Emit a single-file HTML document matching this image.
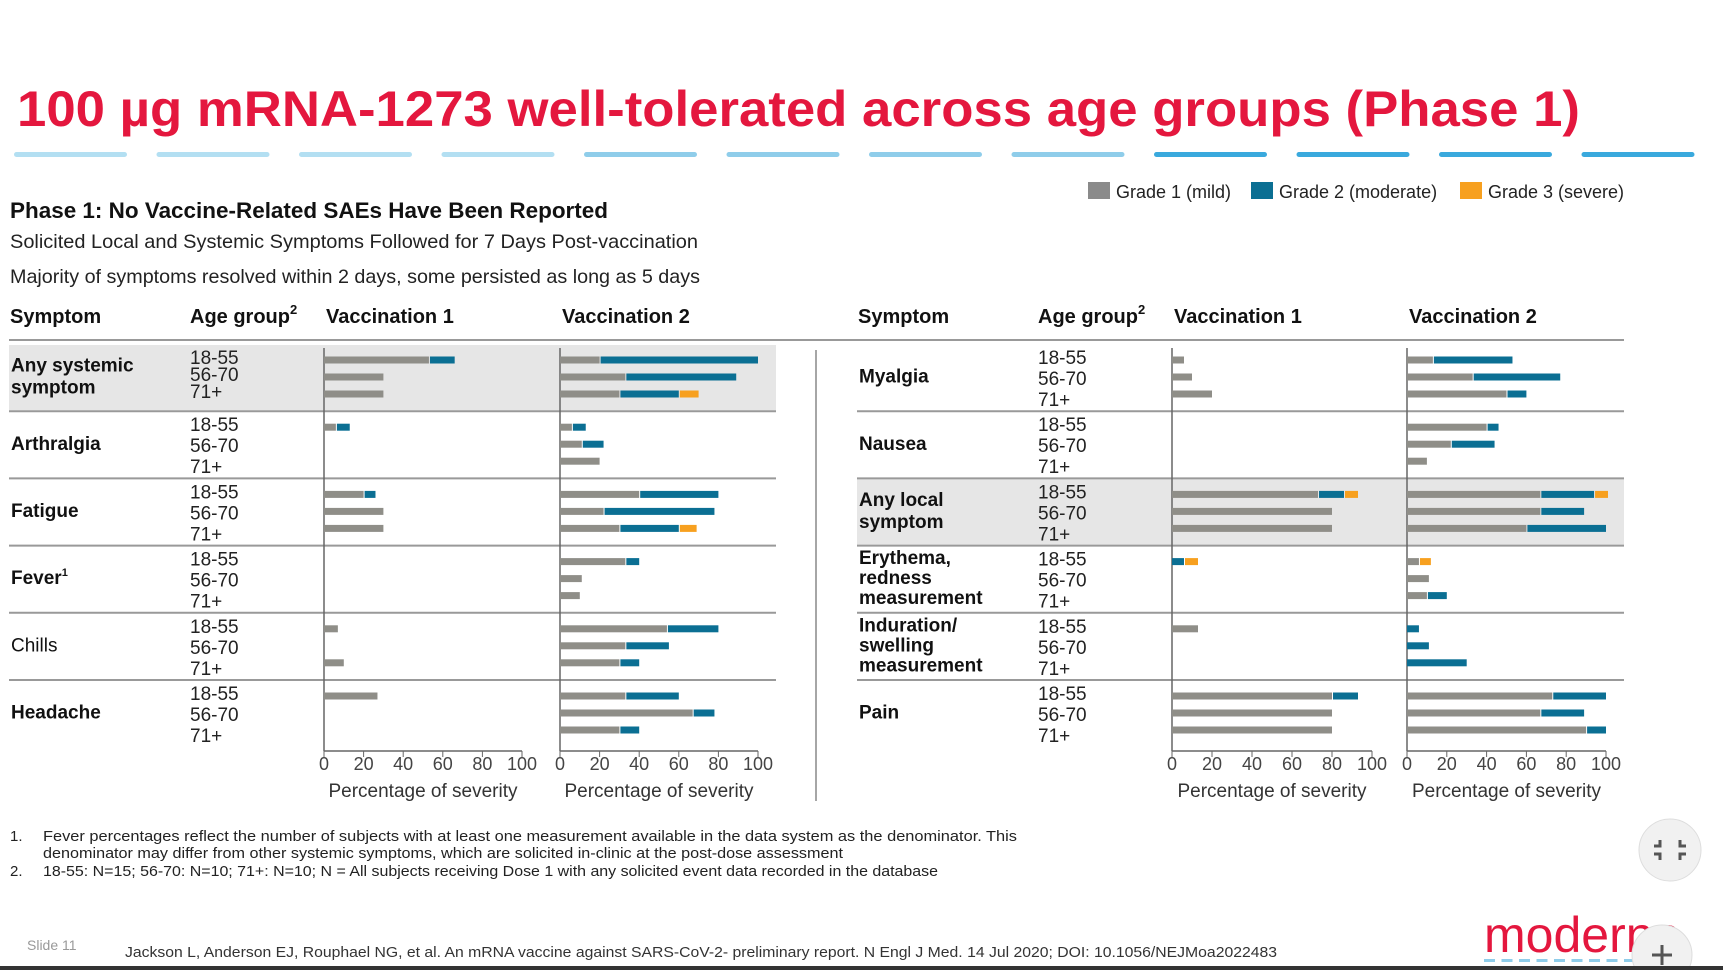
<!DOCTYPE html>
<html><head><meta charset="utf-8"><style>
html,body{margin:0;padding:0;background:#fff;}
svg{display:block;font-family:"Liberation Sans",sans-serif;}
</style></head><body>
<svg id="s" width="1723" height="970" viewBox="0 0 1723 970">
<text x="17" y="126" font-size="50" font-weight="bold" fill="#e4173e" textLength="1563" lengthAdjust="spacingAndGlyphs">100 µg mRNA-1273 well-tolerated  across age groups (Phase 1)</text>
<g id="dashes"></g>
<g>
<rect x="1088" y="182" width="22" height="17" fill="#8a8a8a"/>
<text x="1116" y="198" font-size="18" fill="#222">Grade 1 (mild)</text>
<rect x="1251" y="182" width="22" height="17" fill="#0b6f93"/>
<text x="1279" y="198" font-size="18" fill="#222">Grade 2 (moderate)</text>
<rect x="1460" y="182" width="22" height="17" fill="#f7a01f"/>
<text x="1488" y="198" font-size="18" fill="#222">Grade 3 (severe)</text>
</g>
<text x="10" y="218" font-size="22" font-weight="bold" fill="#111" textLength="598" lengthAdjust="spacingAndGlyphs">Phase 1: No Vaccine-Related SAEs Have Been Reported</text>
<text x="10" y="248" font-size="19.5" fill="#222" textLength="688" lengthAdjust="spacingAndGlyphs">Solicited Local and Systemic Symptoms Followed for 7 Days Post-vaccination</text>
<text x="10" y="283" font-size="19.5" fill="#222" textLength="690" lengthAdjust="spacingAndGlyphs">Majority of symptoms resolved within 2 days, some persisted as long as 5 days</text>
<line x1="9" y1="340" x2="1624" y2="340" stroke="#999" stroke-width="2"/>
<line x1="816" y1="350" x2="816" y2="801" stroke="#888" stroke-width="1.5"/>
<g id="chart"></g>
<g font-size="15" fill="#222">
<text x="10" y="841">1.</text>
<text x="43" y="841" textLength="974" lengthAdjust="spacingAndGlyphs">Fever percentages reflect the number of subjects with at least one measurement available in the data system as the denominator. This</text>
<text x="43" y="858" textLength="800" lengthAdjust="spacingAndGlyphs">denominator may differ from other systemic symptoms, which are solicited in-clinic at the post-dose assessment</text>
<text x="10" y="876">2.</text>
<text x="43" y="876" textLength="895" lengthAdjust="spacingAndGlyphs">18-55: N=15; 56-70: N=10; 71+: N=10; N = All subjects receiving Dose 1 with any solicited event data recorded in the database</text>
</g>
<text x="27" y="950" font-size="14" fill="#999">Slide 11</text>
<text x="125" y="957" font-size="15" fill="#333" textLength="1152" lengthAdjust="spacingAndGlyphs">Jackson L, Anderson EJ, Rouphael NG, et al.  An mRNA vaccine against SARS-CoV-2- preliminary report.  N Engl J Med. 14 Jul 2020; DOI: 10.1056/NEJMoa2022483</text>
<text x="1484" y="952" font-size="50" fill="#e4173e">moderna</text>
<g id="logodash"></g>
<circle cx="1670" cy="850" r="31" fill="#f1f1f1" stroke="#ddd"/>
<path d="M1660 840v6h-6M1680 840v6h6M1660 860v-6h-6M1680 860v-6h6" stroke="#555" stroke-width="3" fill="none"/>
<circle cx="1662" cy="955" r="30" fill="#f1f1f1" stroke="#ddd"/>
<path d="M1662 945v20M1652 955h20" stroke="#555" stroke-width="3"/>
<rect x="0" y="966" width="1723" height="4" fill="#333"/>
</svg>
<script>
const NS="http://www.w3.org/2000/svg";
const svg=document.getElementById('s');
function mk(tag,attrs,parent){const e=document.createElementNS(NS,tag);for(const k in attrs)e.setAttribute(k,attrs[k]);parent.appendChild(e);return e;}

// ---- data ----
const ageGroups=["18-55","56-70","71+"];
const leftSymptoms=["Any systemic symptom","Arthralgia","Fatigue","Fever","Chills","Headache"];
const rightSymptoms=["Myalgia","Nausea","Any local symptom","Erythema, redness measurement","Induration/ swelling measurement","Pain"];
const ticks=[0,20,40,60,80,100];
// each entry: [grade1, grade2, grade3] per age group
const leftV1=[[[53,13,0],[30,0,0],[30,0,0]],[[6,7,0],[0,0,0],[0,0,0]],[[20,6,0],[30,0,0],[30,0,0]],[[0,0,0],[0,0,0],[0,0,0]],[[7,0,0],[0,0,0],[10,0,0]],[[27,0,0],[0,0,0],[0,0,0]]];
const leftV2=[[[20,80,0],[33,56,0],[30,30,10]],[[6,7,0],[11,11,0],[20,0,0]],[[40,40,0],[22,56,0],[30,30,9]],[[33,7,0],[11,0,0],[10,0,0]],[[54,26,0],[33,22,0],[30,10,0]],[[33,27,0],[67,11,0],[30,10,0]]];
const rightV1=[[[6,0,0],[10,0,0],[20,0,0]],[[0,0,0],[0,0,0],[0,0,0]],[[73,13,7],[80,0,0],[80,0,0]],[[0,6,7],[0,0,0],[0,0,0]],[[13,0,0],[0,0,0],[0,0,0]],[[80,13,0],[80,0,0],[80,0,0]]];
const rightV2=[[[13,40,0],[33,44,0],[50,10,0]],[[40,6,0],[22,22,0],[10,0,0]],[[67,27,7],[67,22,0],[60,40,0]],[[6,0,6],[11,0,0],[10,10,0]],[[0,6,0],[0,11,0],[0,30,0]],[[73,27,0],[67,22,0],[90,10,0]]];
const colors=["#8f8e88","#0b6f93","#f7a01f"];

const wrapMap={"Any systemic symptom":["Any systemic","symptom"],"Any local symptom":["Any local","symptom"],"Erythema, redness measurement":["Erythema,","redness","measurement"],"Induration/ swelling measurement":["Induration/","swelling","measurement"]};

const dg=document.getElementById('dashes');
for(let i=0;i<12;i++){
  const x=14+i*142.5;
  const d=mk('rect',{x:x,y:152,width:113,height:5,rx:2.5,fill:i<4?"#b3dff2":(i<8?"#8fcdea":"#3aa9dd")},dg);
  
  
}
const lg=document.getElementById('logodash');
for(let i=0;i<10;i++){
  const d=mk('rect',{x:1484+i*17.5,y:959,width:11,height:3,fill:"#8fcdea"},lg);
  
  
}

const chart=document.getElementById('chart');
const groupTop=345, groupH=67.2, rowOff=[12,29,46], barH=7, axisBottom=751;
const tight=[12,29,46], spread=[12,33,54];

function panel(px, symptoms, v1, v2, axes, shade, tightIdx){
  const g=mk('g',{},chart);
  
  
  const hdr=[["Symptom",px.sym],["Age group",px.age],["Vaccination 1",axes[0][0]],["Vaccination 2",axes[1][0]]];
  hdr.forEach((h,i)=>{
    const t=mk('text',{x:h[1]+(i>=2?2:0),y:323,'font-size':20,'font-weight':'bold',fill:'#111'},g);
    t.textContent=h[0];
    if(i==1){const s=mk('tspan',{'font-size':13,dy:-9},t);s.textContent='2';}
    
    
  });
  symptoms.forEach((s,si)=>{
    const top=groupTop+si*groupH;
    if(si===shade){
      const r=mk('rect',{x:px.sym-1,y:top,width:px.right-px.sym+1,height:groupH-2,fill:'#e6e6e6'},g);
      
      
    }
    if(si>0){
      const l=mk('line',{x1:px.sym-1,x2:px.right,y1:top-1,y2:top-1,stroke:'#999','stroke-width':2},g);
      
      
    }
    const lines=wrapMap[s]||[s];
    const lh=lines.length==3?20:22;
    const cy=top+groupH/2-3;
    const y0=cy-(lines.length-1)*lh/2+7;
    lines.forEach((ln,li)=>{
      const t=mk('text',{x:px.sym+1,y:y0+li*lh,'font-size':19,'font-weight':s==="Chills"?'normal':'bold',fill:'#111'},g);
      t.textContent=ln;
      if(s==="Fever"){const sp=mk('tspan',{'font-size':11,dy:-8},t);sp.textContent='1';}
      
      
    });
    const offs=si===tightIdx?tight:spread;
    ageGroups.forEach((a,ai)=>{
      const t=mk('text',{x:px.age,y:top+offs[ai]+7,'font-size':19,fill:'#222'},g);
      t.textContent=a;
      
      
    });
  });
  [v1,v2].forEach((data,vi)=>{
    const x0=axes[vi][0], x1=axes[vi][1];
    const sx=v=>x0+(x1-x0)*v/100;
    const ax=mk('line',{x1:x0,x2:x0,y1:348,y2:axisBottom,stroke:'#666','stroke-width':1.5},g);
    
    
    const bx=mk('line',{x1:x0,x2:x1,y1:axisBottom,y2:axisBottom,stroke:'#666','stroke-width':1.5},g);
    
    
    ticks.forEach(tv=>{
      const tk=mk('line',{x1:sx(tv),x2:sx(tv),y1:axisBottom,y2:axisBottom+6,stroke:'#666'},g);
      
      
      const tl=mk('text',{x:sx(tv),y:770,'font-size':18,fill:'#444','text-anchor':'middle'},g);
      tl.textContent=tv;
      
      
    });
    const at=mk('text',{x:(x0+x1)/2,y:797,'font-size':19,fill:'#333','text-anchor':'middle'},g);
    at.textContent='Percentage of severity';
    
    
    data.forEach((grp,si)=>{
      grp.forEach((vals,ai)=>{
        let acc=0;
        const y=groupTop+si*groupH+rowOff[ai]-barH/2+3;
        vals.forEach((v,k)=>{
          if(v>0){
            const r=mk('rect',{x:sx(acc)+(acc>0?1:0),y:y,width:Math.max(0,sx(acc+v)-sx(acc)-(acc>0?1:0)),height:barH,fill:colors[k]},g);
            
            
          }
          acc+=v;
        });
      });
    });
  });
}
panel({sym:10,age:190,right:776},leftSymptoms,leftV1,leftV2,[[324,522],[560,758]],0,0);
panel({sym:858,age:1038,right:1624},rightSymptoms,rightV1,rightV2,[[1172,1372],[1407,1606]],2,-1);
</script>
</body></html>
